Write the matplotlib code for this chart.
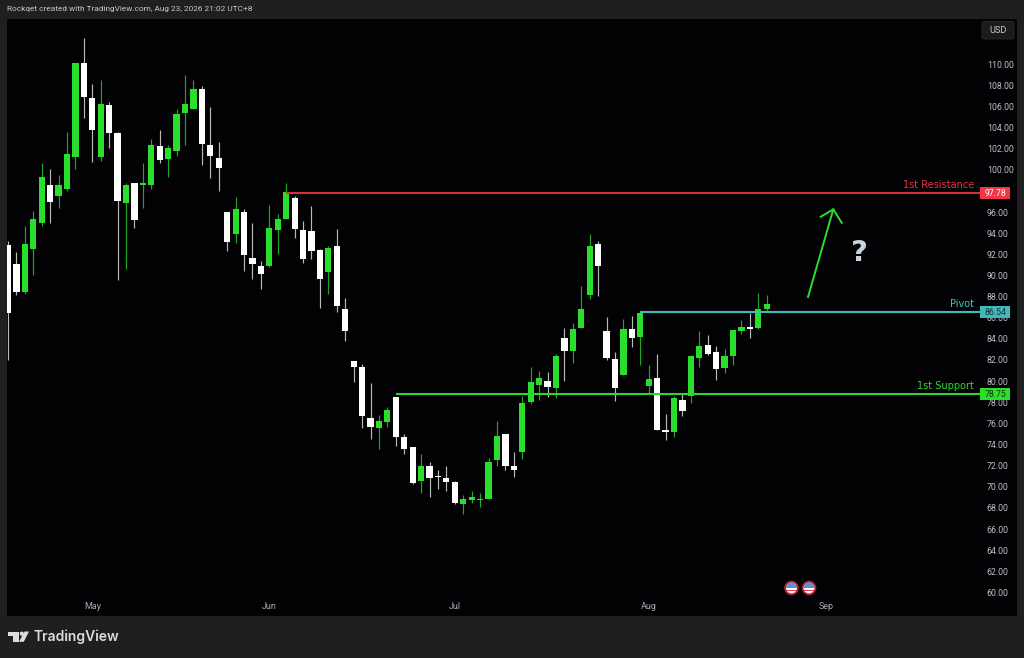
import matplotlib
matplotlib.use("Agg")
import matplotlib.pyplot as plt
from matplotlib.patches import Circle, Polygon, Rectangle, FancyBboxPatch, Wedge

# one candle per trading day
highs = [93.26, 92.19, 94.70, 96.10, 100.66, 100.04, 99.50, 103.57, 110.10, 112.43,
         108.08, 108.49, 106.38, 103.54, 98.72, 98.77, 100.66, 102.88, 103.76, 102.31,
         105.72, 108.93, 108.49, 107.92, 105.96, 102.62, 95.97, 97.39, 96.26, 94.99,
         91.36, 96.66, 95.81, 98.72, 97.51, 95.15, 96.57, 92.47, 92.76, 94.39,
         87.83, 81.88, 81.59, 79.85, 76.77, 77.52, 78.53, 75.00, 73.77, 73.08,
         72.32, 71.59, 71.94, 70.52, 69.20, 69.58, 69.45, 72.70, 76.26, 74.97,
         73.27, 78.62, 81.31, 80.96, 80.84, 82.54, 85.03, 85.50, 89.03, 93.92,
         93.23, 86.04, 82.76, 85.88, 86.19, 86.47, 81.52, 82.54, 76.89, 78.59,
         78.88, 82.47, 84.71, 84.36, 83.32, 83.01, 84.84, 85.75, 86.47, 88.31, 88.15]
lows = [82.00, 88.15, 88.21, 90.04, 94.67, 94.93, 96.41, 98.01, 100.10, 104.86,
        100.76, 100.85, 102.05, 89.57, 90.61, 94.51, 96.41, 98.20, 100.66, 99.34,
        101.30, 102.37, 105.77, 100.47, 99.19, 98.02, 92.31, 93.10, 90.42, 89.66,
        88.72, 90.82, 92.06, 95.37, 93.57, 91.20, 91.53, 86.95, 88.24, 86.57,
        83.80, 79.92, 75.60, 74.55, 73.61, 75.69, 73.86, 73.13, 70.24, 69.45,
        69.07, 69.80, 69.63, 68.38, 67.43, 68.44, 68.12, 68.88, 71.97, 71.59,
        70.90, 72.66, 77.87, 78.22, 78.53, 78.43, 79.98, 81.74, 85.00, 87.80,
        88.08, 81.97, 78.12, 80.58, 83.26, 81.52, 78.78, 75.35, 74.43, 74.74,
        76.73, 77.90, 81.36, 82.50, 80.11, 80.77, 81.50, 84.46, 84.11, 84.90, 86.57]
opens = [92.88, 91.05, 88.46, 92.53, 94.93, 98.58, 97.51, 98.20, 101.23, 110.10,
         106.76, 101.23, 106.12, 103.47, 96.88, 98.72, 98.52, 98.58, 102.24, 101.01,
         101.80, 105.34, 105.77, 107.61, 102.31, 101.08, 95.97, 93.89, 96.03, 91.65,
         90.89, 90.92, 94.27, 95.37, 97.35, 94.27, 94.20, 92.38, 90.35, 92.76,
         86.85, 81.88, 81.31, 76.51, 75.60, 76.16, 78.53, 74.74, 73.77, 70.52,
         72.00, 71.00, 70.81, 70.43, 68.38, 68.76, 68.78, 68.88, 72.57, 74.97,
         71.94, 73.32, 78.05, 79.66, 79.98, 79.35, 84.05, 82.88, 85.00, 88.12,
         92.97, 84.71, 82.12, 80.58, 84.96, 84.20, 79.57, 80.30, 75.35, 75.22,
         78.19, 78.59, 82.19, 83.45, 82.73, 81.24, 82.41, 84.77, 85.09, 85.02, 86.80]
closes = [86.45, 88.46, 92.94, 95.31, 99.31, 96.97, 98.52, 101.46, 110.10, 106.91,
          103.73, 106.19, 103.50, 97.04, 98.52, 95.24, 98.72, 102.37, 100.92, 102.05,
          105.27, 106.25, 107.61, 102.46, 101.33, 100.16, 93.19, 96.28, 91.96, 91.11,
          90.13, 94.46, 95.31, 97.86, 94.39, 91.58, 92.31, 89.63, 92.62, 87.14,
          84.77, 81.34, 76.67, 75.69, 76.26, 77.24, 74.71, 73.58, 70.39, 72.00,
          70.84, 70.90, 70.48, 68.44, 68.82, 69.07, 68.85, 72.38, 74.81, 71.97,
          71.56, 77.96, 79.89, 80.27, 79.42, 82.38, 82.82, 84.96, 86.85, 92.81,
          90.89, 82.19, 79.35, 84.96, 84.11, 86.47, 80.23, 75.35, 75.16, 78.40,
          77.20, 82.41, 83.32, 82.60, 81.18, 82.41, 84.84, 85.09, 84.93, 86.85, 87.27]

# 98.00 sits fully under the 97.78 price tag, so it never shows
price_ticks = [p for p in range(60, 112, 2) if p != 98]
month_labels = ["May", "Jun", "Jul", "Aug", "Sep"]
month_pos = [10, 31, 53, 76, 97]

level_names = ["1st Resistance", "Pivot", "1st Support"]
level_values = [97.78, 86.54, 78.75]
level_start = [33, 75, 46]
level_colors = ["#d4303f", "#3fb9bd", "#2fd42f"]
level_label_colors = ["#e8323f", "#45c4c8", "#2ddc2d"]
level_boxes = ["#f23645", "#3fb9bd", "#2be02b"]
level_text = ["white", "#123334", "#0d3b0d"]

GREEN = "#29de2d"
BG = "#1f1f1f"
PANE = "#020204"
W, H = 1024, 658

fig = plt.figure(figsize=(W / 100, H / 100), dpi=100, facecolor=BG)
ax = fig.add_axes([7 / W, 1 - 616 / H, 1010 / W, 597 / H], facecolor=PANE)

# x = 8 + 8.43 * i in pixels, 10.57 px per dollar
ax.set_xlim(-0.12, 119.69)
ax.set_ylim(57.78, 114.26)

for i in range(len(opens)):
    col = GREEN if closes[i] >= opens[i] else "white"
    wick = "#1fa822" if closes[i] >= opens[i] else "#b8b8b8"
    ax.vlines(i, lows[i], highs[i], color=wick, lw=0.85, zorder=2)
    bot = min(opens[i], closes[i])
    ax.bar(i, abs(closes[i] - opens[i]), bottom=bot, width=0.74, color=col,
           edgecolor="none", zorder=3)

for i in range(3):
    ax.plot([level_start[i], 115.3], [level_values[i], level_values[i]],
            color=level_colors[i], lw=1.5, zorder=4, solid_capstyle="butt")
    ax.text(114.6, level_values[i] + 0.3, level_names[i], color=level_label_colors[i],
            ha="right", va="bottom", fontsize=7, family="DejaVu Sans", zorder=6)
    ax.add_patch(Rectangle((115.35, level_values[i] - 0.56), 3.56, 1.12,
                           fc=level_boxes[i], ec="none", zorder=5))
    ax.text(117.13, level_values[i], "%.2f" % level_values[i], color=level_text[i],
            ha="center", va="center", fontsize=6.3, family="Roboto", zorder=6)

# hand drawn arrow and question mark
ax.plot([94.9, 97.9], [87.96, 96.25], color=GREEN, lw=1.4, zorder=4)
ax.plot([96.4, 97.9, 98.9], [95.55, 96.25, 94.98], color=GREEN, lw=1.4, zorder=4)
ax.text(101.05, 92.1, "?", color="#c9d3dc", fontsize=21, fontweight="bold",
        family="DejaVu Sans", ha="center", va="center", zorder=4)

ax.set_yticks(price_ticks)
ax.set_yticklabels(["%.2f" % p for p in price_ticks], family="Roboto", fontsize=6.3,
                   color="#bcbec4", ha="left")
ax.yaxis.tick_right()
ax.tick_params(axis="y", length=0, pad=-21.8)
ax.set_xticks(month_pos)
ax.set_xticklabels(month_labels, family="Roboto", fontsize=6.5, color="#a8aab0")
ax.tick_params(axis="x", length=0, pad=-10)
for s in ax.spines.values():
    s.set_visible(False)

# everything around the chart lives in pixel coords
deco = fig.add_axes([0, 0, 1, 1], facecolor="none")
deco.set_xlim(0, W)
deco.set_ylim(H, 0)
deco.axis("off")

deco.text(7, 9.5, "Rockqet created with TradingView.com, Aug 23, 2026 21:02 UTC+8",
          color="#c8c8c8", fontsize=5.95, family="Roboto", va="center")

deco.add_patch(FancyBboxPatch((982, 21.5), 32, 17.5, boxstyle="round,pad=0,rounding_size=2.5",
                              fc="#1b1b1b", ec="#2c2c2c", lw=0.6))
deco.text(998, 30.5, "USD", color="#c4c6cc", fontsize=6.6, family="Roboto",
          ha="center", va="center")

# earnings flags
for cx in [791.5, 809]:
    deco.add_patch(Circle((cx, 588), 7.3, fc="#b3202f", ec="none"))
    deco.add_patch(Circle((cx, 588), 5.4, fc="white", ec="none"))
    deco.add_patch(Wedge((cx, 588), 5.4, 180, 360, fc="#5c8fd6", ec="none"))
    deco.add_patch(Rectangle((cx - 5, 589.5), 10, 1.5, fc="#d8404c", ec="none"))

# TradingView logo
logo = "#dcdcdc"
deco.add_patch(Polygon([(8, 631.5), (18.5, 631.5), (18.5, 641.8), (13, 641.8),
                        (13, 635.8), (8, 635.8)], fc=logo, ec="none"))
deco.add_patch(Circle((21.8, 633.7), 2.1, fc=logo, ec="none"))
deco.add_patch(Polygon([(24.5, 631.5), (29, 631.5), (23.8, 641.8), (19, 641.8)],
                       fc=logo, ec="none"))
deco.text(33.5, 637, "TradingView", color=logo, fontsize=10, family="Inter",
          fontweight="semibold", va="center")

fig.savefig("out.png", dpi=100, facecolor=BG)
